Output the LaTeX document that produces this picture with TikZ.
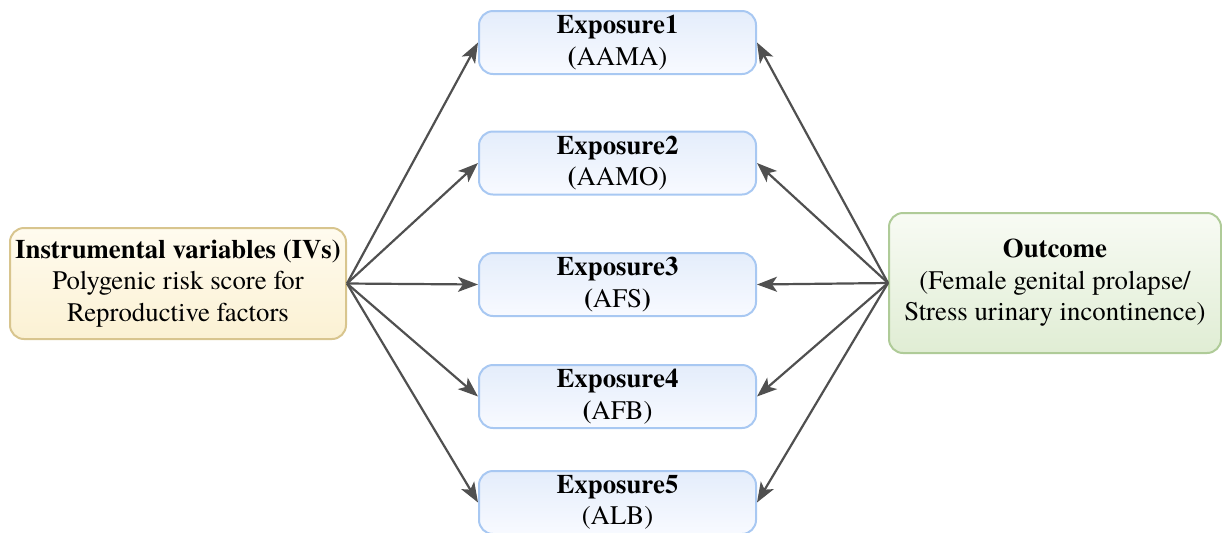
\documentclass[tikz,border=0pt]{standalone}
\usepackage{fontspec}
\setmainfont{TeX Gyre Termes}
\usepackage{xcolor}
\usetikzlibrary{arrows.meta}

\definecolor{ivline}{HTML}{D8C58E}
\definecolor{ivtop}{HTML}{FFFBEF}
\definecolor{ivbot}{HTML}{FBF1D3}
\definecolor{exline}{HTML}{A8C8F2}
\definecolor{extop}{HTML}{E4EDFB}
\definecolor{exbot}{HTML}{F8FAFF}
\definecolor{outline}{HTML}{AFCB98}
\definecolor{outtop}{HTML}{F8FBF4}
\definecolor{outbot}{HTML}{E0EDD4}
\definecolor{arr}{HTML}{505050}

\begin{document}
\begin{tikzpicture}[x=0.5pt, y=-0.5pt]
  \tikzstyle{mybox}=[rounded corners=7pt, line width=1pt, align=center,
    font=\fontsize{13.4}{15.8}\selectfont, inner sep=0pt];
  \tikzstyle{ivbox}=[mybox, draw=ivline, top color=ivtop, bottom color=ivbot,
    minimum width=168pt, minimum height=55.5pt];
  \tikzstyle{expbox}=[mybox, draw=exline, top color=extop, bottom color=exbot,
    minimum width=138.5pt, minimum height=31.5pt];
  \tikzstyle{outbox}=[mybox, draw=outline, top color=outtop, bottom color=outbot,
    minimum width=166pt, minimum height=70pt];
  \tikzstyle{link}=[arr, line width=1.1pt, -{Stealth[length=10pt, width=7.5pt, inset=2.5pt]}];
  %
  \useasboundingbox (0, 0) rectangle (1222, 532);
  %
  % instrumental variables
  \node[ivbox] (ivs) at (178, 283.5)
    {\textbf{Instrumental variables (IVs)}\\Polygenic risk score for\\Reproductive factors};
  %
  % exposures
  \node[expbox] (expA) at (617.5, 42.5) {\textbf{Exposure1}\\\textbf{(}AAMA)};
  \node[expbox] (expB) at (617.5, 163) {\textbf{Exposure2}\\\textbf{(}AAMO)};
  \node[expbox] (expC) at (617.5, 284.5) {\textbf{Exposure3}\\\textbf{(}AFS\textbf{)}};
  \node[expbox] (expD) at (617.5, 396.5) {\textbf{Exposure4}\\\textbf{(}AFB)};
  \node[expbox] (expE) at (617.5, 502.5) {\textbf{Exposure5}\\(ALB)};
  %
  % outcome
  \node[outbox] (out) at (1055, 283)
    {\textbf{Outcome}\\(Female genital prolapse/\\Stress urinary incontinence)};
  %
  % arrows from the IVs
  \draw[link] (ivs.east) -- (expA.west);
  \draw[link] (ivs.east) -- (expB.west);
  \draw[link] (ivs.east) -- (expC.west);
  \draw[link] (ivs.east) -- (expD.west);
  \draw[link] (ivs.east) -- (expE.west);
  %
  % arrows from the outcome
  \draw[link] (out.west) -- (expA.east);
  \draw[link] (out.west) -- (expB.east);
  \draw[link] (out.west) -- (expC.east);
  \draw[link] (out.west) -- (expD.east);
  \draw[link] (out.west) -- (expE.east);
\end{tikzpicture}
\end{document}
